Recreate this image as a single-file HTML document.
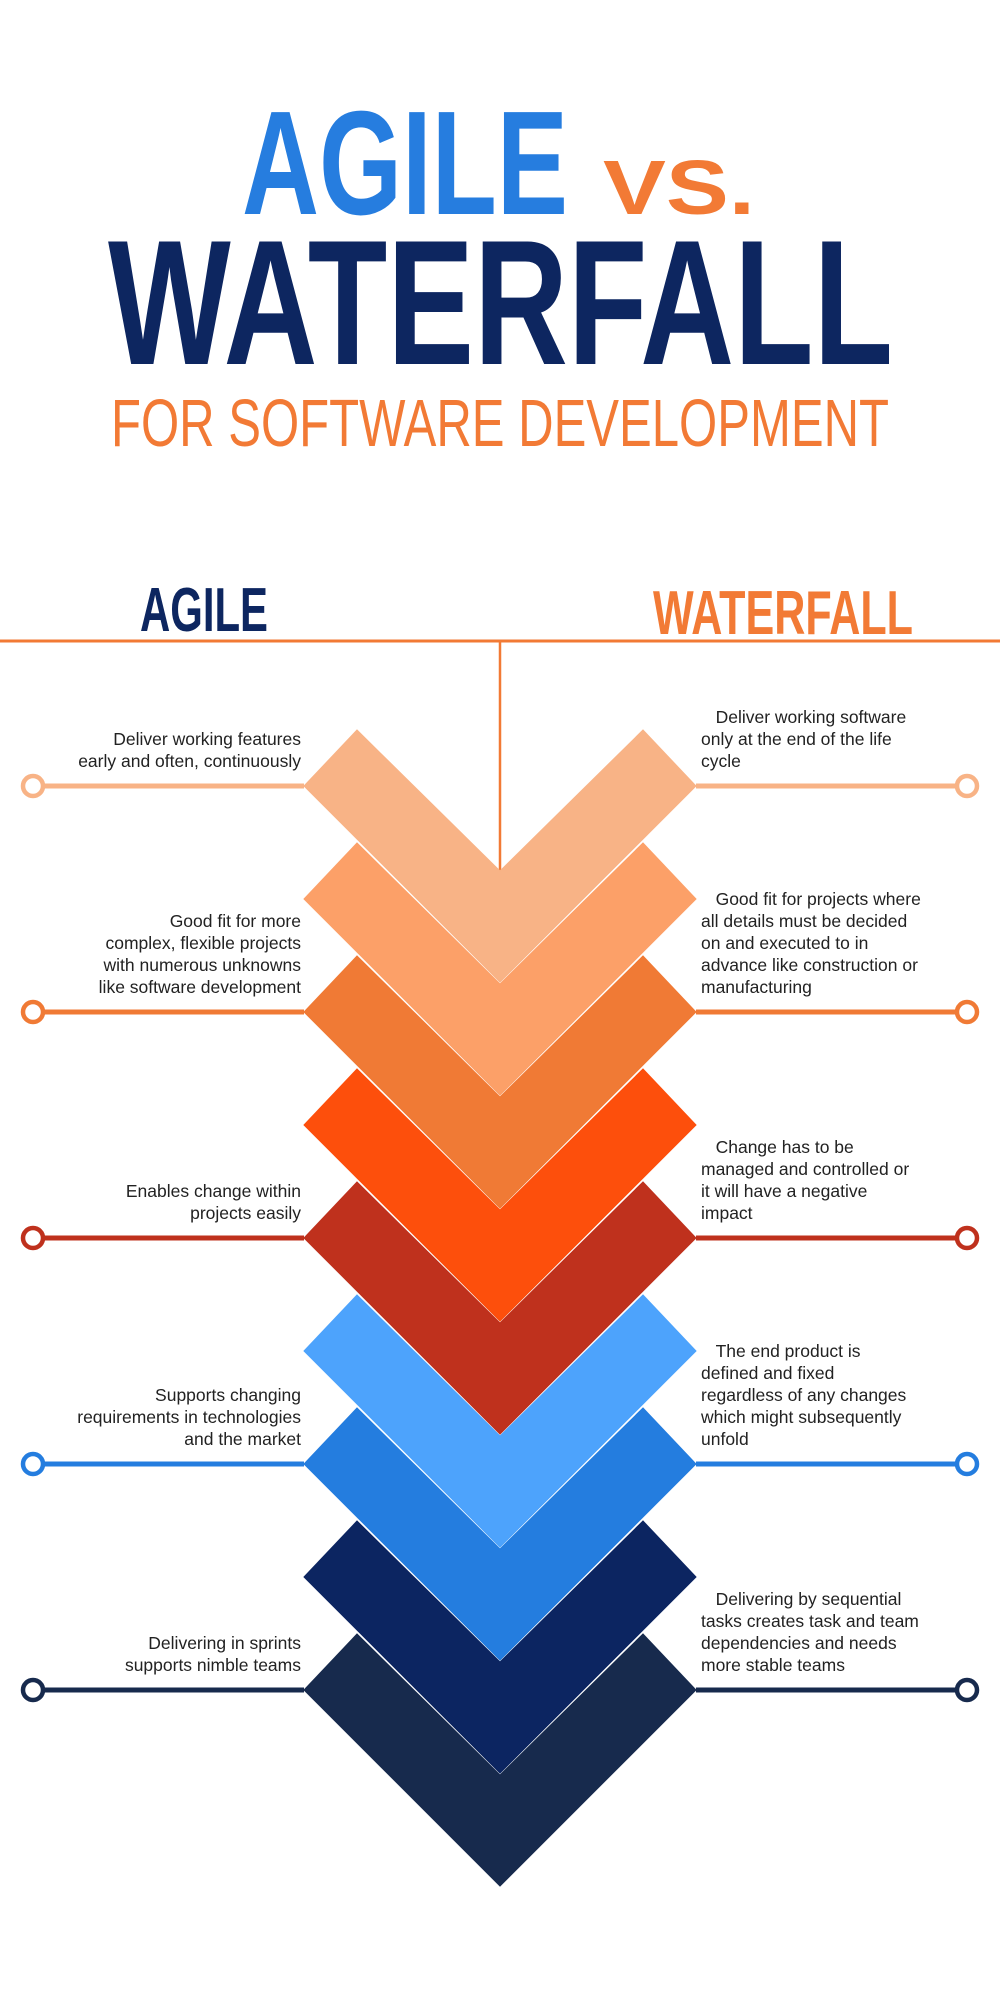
<!DOCTYPE html>
<html><head><meta charset="utf-8"><style>
html,body{margin:0;padding:0;background:#fff;}
body{width:1000px;height:2000px;position:relative;overflow:hidden;font-family:"Liberation Sans",sans-serif;}
.t{position:absolute;font-size:17.5px;line-height:22px;color:#222;}
.l{right:699px;text-align:right;}
.r{left:701px;}
</style></head><body>
<svg width="1000" height="2000" style="position:absolute;left:0;top:0">
<g font-family="Liberation Sans, sans-serif" font-weight="bold">
<text x="242" y="214" font-size="148" fill="#267DDF" textLength="326" lengthAdjust="spacingAndGlyphs">AGILE</text>
<text x="603" y="214" font-size="77" fill="#F27A35" textLength="152" lengthAdjust="spacingAndGlyphs">VS.</text>
<text x="108" y="364" font-size="178" fill="#0D2660" textLength="785" lengthAdjust="spacingAndGlyphs">WATERFALL</text>
<text x="111" y="446" font-size="67" font-weight="normal" fill="#F27A35" textLength="778" lengthAdjust="spacingAndGlyphs">FOR SOFTWARE DEVELOPMENT</text>
<text x="140" y="631" font-size="62" fill="#0D2660" textLength="128" lengthAdjust="spacingAndGlyphs">AGILE</text>
<text x="653" y="634" font-size="62" fill="#F27A35" textLength="260" lengthAdjust="spacingAndGlyphs">WATERFALL</text>
</g>
<line x1="0" y1="641" x2="1000" y2="641" stroke="#F27A35" stroke-width="3"/>
<line x1="500" y1="641" x2="500" y2="872" stroke="#F27A35" stroke-width="2.5"/>
<g stroke-width="1" stroke-linejoin="miter">
<polygon points="304,1690 357,1634 500,1775 643,1634 696,1690 500,1886" fill="#172A4D" stroke="#172A4D"/>
<polygon points="304,1577 357,1521 500,1662 643,1521 696,1577 500,1773" fill="#0C2561" stroke="#0C2561"/>
<polygon points="304,1464 357,1408 500,1549 643,1408 696,1464 500,1660" fill="#247DDF" stroke="#247DDF"/>
<polygon points="304,1351 357,1295 500,1436 643,1295 696,1351 500,1547" fill="#4DA3FC" stroke="#4DA3FC"/>
<polygon points="304,1238 357,1182 500,1323 643,1182 696,1238 500,1434" fill="#BF311D" stroke="#BF311D"/>
<polygon points="304,1125 357,1069 500,1210 643,1069 696,1125 500,1321" fill="#FD4F0C" stroke="#FD4F0C"/>
<polygon points="304,1012 357,956 500,1097 643,956 696,1012 500,1208" fill="#F07A35" stroke="#F07A35"/>
<polygon points="304,899 357,843 500,984 643,843 696,899 500,1095" fill="#FCA068" stroke="#FCA068"/>
<polygon points="304,786 357,730 500,871 643,730 696,786 500,982" fill="#F8B386" stroke="#F8B386"/>
</g>
<g stroke-width="5" fill="none">
<g stroke="#F8B386"><line x1="43" y1="786" x2="304" y2="786"/><line x1="696" y1="786" x2="957" y2="786"/><circle cx="33" cy="786" r="10" fill="#fff" stroke-width="4.5"/><circle cx="967" cy="786" r="10" fill="#fff" stroke-width="4.5"/></g>
<g stroke="#F07A35"><line x1="43" y1="1012" x2="304" y2="1012"/><line x1="696" y1="1012" x2="957" y2="1012"/><circle cx="33" cy="1012" r="10" fill="#fff" stroke-width="4.5"/><circle cx="967" cy="1012" r="10" fill="#fff" stroke-width="4.5"/></g>
<g stroke="#BF311D"><line x1="43" y1="1238" x2="304" y2="1238"/><line x1="696" y1="1238" x2="957" y2="1238"/><circle cx="33" cy="1238" r="10" fill="#fff" stroke-width="4.5"/><circle cx="967" cy="1238" r="10" fill="#fff" stroke-width="4.5"/></g>
<g stroke="#247DDF"><line x1="43" y1="1464" x2="304" y2="1464"/><line x1="696" y1="1464" x2="957" y2="1464"/><circle cx="33" cy="1464" r="10" fill="#fff" stroke-width="4.5"/><circle cx="967" cy="1464" r="10" fill="#fff" stroke-width="4.5"/></g>
<g stroke="#172A4D"><line x1="43" y1="1690" x2="304" y2="1690"/><line x1="696" y1="1690" x2="957" y2="1690"/><circle cx="33" cy="1690" r="10" fill="#fff" stroke-width="4.5"/><circle cx="967" cy="1690" r="10" fill="#fff" stroke-width="4.5"/></g>
</g>
</svg>

<div class="t l" style="bottom:1228px">Deliver working features<br>early and often, continuously</div>
<div class="t r" style="bottom:1228px">&nbsp;&nbsp;&nbsp;Deliver working software<br>only at the end of the life<br>cycle</div>

<div class="t l" style="bottom:1002px">Good fit for more<br>complex, flexible projects<br>with numerous unknowns<br>like software development</div>
<div class="t r" style="bottom:1002px">&nbsp;&nbsp;&nbsp;Good fit for projects where<br>all details must be decided<br>on and executed to in<br>advance like construction or<br>manufacturing</div>

<div class="t l" style="bottom:776px">Enables change within<br>projects easily</div>
<div class="t r" style="bottom:776px">&nbsp;&nbsp;&nbsp;Change has to be<br>managed and controlled or<br>it will have a negative<br>impact</div>

<div class="t l" style="bottom:550px">Supports changing<br>requirements in technologies<br>and the market</div>
<div class="t r" style="bottom:550px">&nbsp;&nbsp;&nbsp;The end product is<br>defined and fixed<br>regardless of any changes<br>which might subsequently<br>unfold</div>

<div class="t l" style="bottom:324px">Delivering in sprints<br>supports nimble teams</div>
<div class="t r" style="bottom:324px">&nbsp;&nbsp;&nbsp;Delivering by sequential<br>tasks creates task and team<br>dependencies and needs<br>more stable teams</div>
</body></html>
